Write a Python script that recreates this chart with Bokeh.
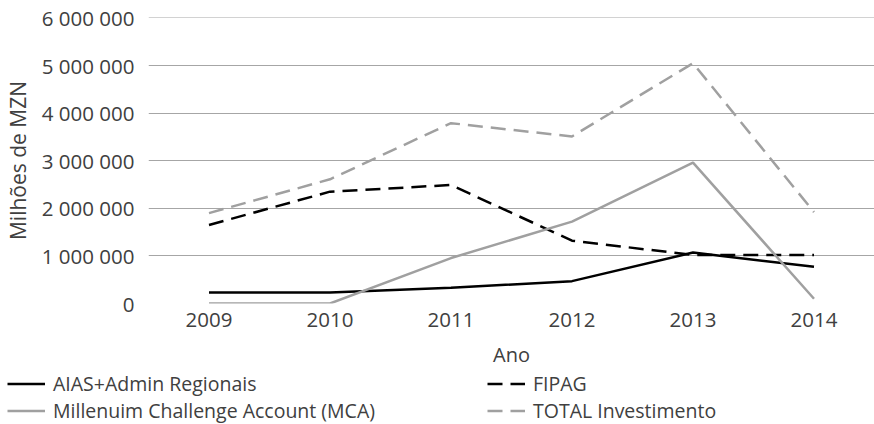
from bokeh.plotting import figure
from bokeh.models import Legend, LegendItem, CustomJSTickFormatter, FixedTicker, Range1d, ColumnDataSource
from bokeh.embed import file_html
from bokeh.resources import INLINE

years = ["2009", "2010", "2011", "2012", "2013", "2014"]
aias = [230000, 230000, 330000, 470000, 1070000, 770000]
fipag = [1650000, 2350000, 2490000, 1320000, 1020000, 1020000]
mca = [0, 0, 955000, 1720000, 2960000, 100000]
total = [1900000, 2610000, 3790000, 3510000, 5050000, 1920000]
y_ticks = [0, 1000000, 2000000, 3000000, 4000000, 5000000, 6000000]
series_names = ["AIAS+Admin Regionais", "FIPAG", "Millenuim Challenge Account (MCA)", "TOTAL Investimento"]

FONT = "Open Sans"
TXT = "#404040"
GRAY = "#a0a0a0"
DASH = "15 8"
LW = 2.5

p = figure(x_range=years, y_range=Range1d(0, 6010000),
           width=874, height=370,
           min_border_left=139, min_border_top=17, min_border_bottom=65, min_border_right=0,
           output_backend="svg", toolbar_location=None)
p.x_range.range_padding = 0
p.outline_line_color = None

p.line(years, aias, line_color="black", line_width=LW)
p.line(years, fipag, line_color="black", line_width=LW, line_dash=DASH)
p.line(years, mca, line_color=GRAY, line_width=LW)
p.line(years, total, line_color=GRAY, line_width=LW, line_dash=DASH)

p.xgrid.grid_line_color = None
p.ygrid.grid_line_color = "#a6a6a6"
p.ygrid.grid_line_width = 1.2
p.yaxis.ticker = FixedTicker(ticks=y_ticks)
p.yaxis.formatter = CustomJSTickFormatter(code="return String(tick).replace(/\\B(?=(\\d{3})+(?!\\d))/g, ' ');")

for ax in (p.xaxis[0], p.yaxis[0]):
    ax.axis_line_color = None
    ax.major_tick_line_color = None
    ax.minor_tick_line_color = None
    ax.major_label_text_font = FONT
    ax.major_label_text_font_size = "20.5px"
    ax.major_label_text_color = TXT
    ax.axis_label_text_font = FONT
    ax.axis_label_text_font_size = "20px"
    ax.axis_label_text_font_style = "normal"
    ax.axis_label_text_color = TXT

p.yaxis.axis_label_text_font_size = "21px"
p.xaxis.axis_label = "Ano"
p.yaxis.axis_label = "Milhões de MZN"
p.xaxis.major_label_standoff = 3
p.xaxis.axis_label_standoff = 11
p.yaxis.major_label_standoff = 8
p.yaxis.axis_label_standoff = 7

# legend drawn in its own strip below the chart
lg = figure(width=874, height=54, x_range=Range1d(0, 1), y_range=Range1d(0, 1),
            x_axis_location=None, y_axis_location=None,
            min_border=0, output_backend="svg", toolbar_location=None)
lg.grid.visible = False
lg.outline_line_color = None
dummy = ColumnDataSource(data=dict(x=[5], y=[5]))
styles = [("black", None), ("black", DASH), (GRAY, None), (GRAY, DASH)]
rs = []
for color, dash in styles:
    kw = dict(line_color=color, line_width=LW)
    if dash:
        kw["line_dash"] = dash
    rs.append(lg.line("x", "y", source=dummy, **kw))

order = [0, 2, 1, 3]  # column-major fill: left column first
legend = Legend(items=[LegendItem(label=series_names[i], renderers=[rs[i]]) for i in order],
                ncols=2, location=(7, 0))
legend.background_fill_alpha = 0
legend.border_line_color = None
legend.label_text_font = FONT
legend.label_text_font_size = "19.5px"
legend.label_text_color = TXT
legend.glyph_width = 38
legend.label_standoff = 8
legend.label_width = 434
legend.spacing = 0
legend.padding = 0
legend.margin = 0
legend.label_height = 27
legend.glyph_height = 27
lg.add_layout(legend, "center")

open("out.html", "w").write(file_html([p, lg], INLINE))
